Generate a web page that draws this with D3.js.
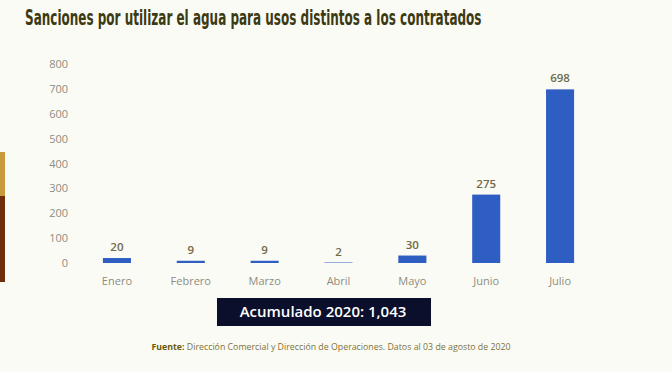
<!DOCTYPE html>
<html>
<head>
<meta charset="utf-8">
<script src="https://cdn.jsdelivr.net/npm/d3@7"></script>
<style>
  html, body { margin: 0; padding: 0; background: #fbfbf6; }
  svg { display: block; }
</style>
</head>
<body>
<div id="chart"></div>
<script>
const width = 672
const height = 372

const meses = ["Enero", "Febrero", "Marzo", "Abril", "Mayo", "Junio", "Julio"]
const sanciones = [20, 9, 9, 2, 30, 275, 698]
const yTicks = [0, 100, 200, 300, 400, 500, 600, 700, 800]

const titulo = "Sanciones por utilizar el agua para usos distintos a los contratados"
const fuente = "Dirección Comercial y Dirección de Operaciones. Datos al 03 de agosto de 2020"

const svg = d3.select("div#chart").append("svg").attr("width", width).attr("height", height)

svg.append("rect").attr("width", width).attr("height", height).attr("fill", "#fbfbf6")

// decorative strip at the left edge
svg.append("rect").attr("x", 0).attr("y", 152).attr("width", 5).attr("height", 44).attr("fill", "#c99a3c")
svg.append("rect").attr("x", 0).attr("y", 196).attr("width", 5).attr("height", 86).attr("fill", "#6e2e0c")

// title, squeezed horizontally to the reference width
const tituloGroup = svg.append("g")
const tituloText = tituloGroup.append("text")
    .attr("x", 0).attr("y", 0)
    .attr("font-family", "'DejaVu Sans Condensed', 'Liberation Sans Narrow', sans-serif")
    .attr("font-weight", "bold")
    .attr("font-size", 21)
    .attr("fill", "#3b3a12")
    .text(titulo)
const anchoNatural = tituloText.node().getComputedTextLength()
tituloGroup.attr("transform", `translate(25, 25) scale(${457 / anchoNatural}, 1)`)

const x = d3.scaleBand().domain(meses).range([80, 597]).paddingInner(0.62).paddingOuter(0.31)
const y = d3.scaleLinear().domain([0, 800]).range([263, 64])

const yAxis = d3.axisLeft(y).tickValues(yTicks).tickSize(0).tickPadding(0)
const yAxisGroup = svg.append("g").attr("transform", "translate(68, 0)").call(yAxis)
yAxisGroup.select(".domain").remove()
yAxisGroup.selectAll("text")
    .attr("font-family", "'Open Sans', sans-serif")
    .attr("font-size", 11)
    .attr("fill", "#8e8c80")

const xAxis = d3.axisBottom(x).tickSize(0).tickPadding(0)
const xAxisGroup = svg.append("g").attr("transform", "translate(0, 277)").call(xAxis)
xAxisGroup.select(".domain").remove()
xAxisGroup.selectAll("text")
    .attr("font-family", "'Open Sans', sans-serif")
    .attr("font-size", 11)
    .attr("fill", "#8e8c80")

const data = meses.map((m, i) => ({ mes: m, valor: sanciones[i] }))

const elementGroup = svg.append("g")

elementGroup.selectAll("rect.bar").data(data).join("rect")
    .attr("class", "bar")
    .attr("x", d => x(d.mes))
    .attr("width", x.bandwidth())
    .attr("y", d => y(d.valor))
    .attr("height", d => y(0) - y(d.valor))
    .attr("fill", "#2f5ec2")

elementGroup.selectAll("text.valor").data(data).join("text")
    .attr("class", "valor")
    .attr("x", d => x(d.mes) + x.bandwidth() / 2)
    .attr("y", d => y(d.valor) - 7)
    .attr("text-anchor", "middle")
    .attr("font-family", "'Open Sans', sans-serif")
    .attr("font-weight", 600)
    .attr("font-size", 11.5)
    .attr("fill", "#6e6a48")
    .text(d => d.valor)

// accumulated total box
const total = d3.sum(sanciones)
svg.append("rect").attr("x", 217).attr("y", 298).attr("width", 214).attr("height", 28).attr("fill", "#0b0f2b")
svg.append("text")
    .attr("x", 323).attr("y", 317)
    .attr("text-anchor", "middle")
    .attr("font-family", "'Open Sans', sans-serif")
    .attr("font-weight", 600)
    .attr("font-size", 15)
    .attr("fill", "#ffffff")
    .text(`Acumulado 2020: ${d3.format(",")(total)}`)

const pie = svg.append("text")
    .attr("x", 331).attr("y", 350)
    .attr("text-anchor", "middle")
    .attr("font-family", "'Open Sans', sans-serif")
    .attr("font-size", 8.8)
    .attr("fill", "#7d7236")
pie.append("tspan").attr("font-weight", "bold").attr("fill", "#6a5a08").text("Fuente: ")
pie.append("tspan").text(fuente)
</script>
</body>
</html>
